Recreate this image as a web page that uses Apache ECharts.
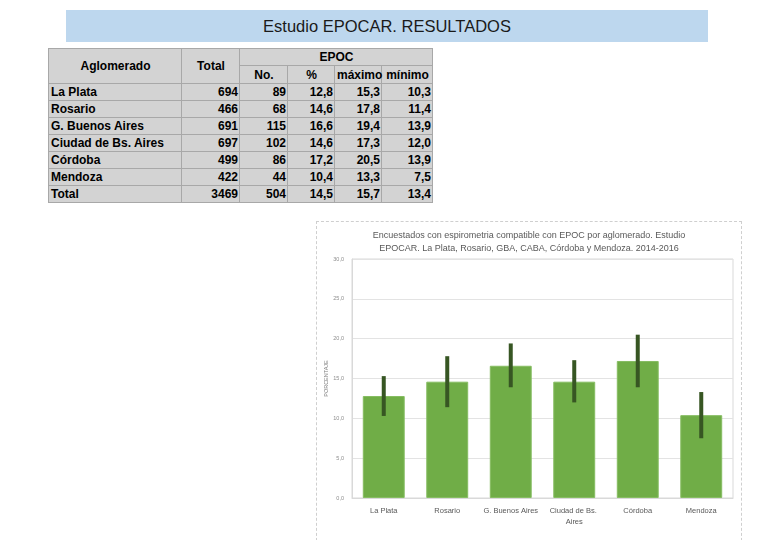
<!DOCTYPE html>
<html>
<head>
<meta charset="utf-8">
<script src="https://cdn.jsdelivr.net/npm/echarts@6/dist/echarts.min.js"></script>
<style>
  html, body { margin: 0; padding: 0; background: #fff; width: 780px; height: 540px; overflow: hidden; }
  #title {
    position: absolute; left: 66px; top: 10px; width: 642px; height: 32px;
    background: #BDD7EE; color: #1a1a1a; font: 16.5px "Liberation Sans", sans-serif;
    text-align: center; line-height: 32px;
  }
  #tabla {
    position: absolute; left: 48px; top: 48px; border-collapse: collapse; table-layout: fixed; width: 384px;
    background: #D3D3D3; font: bold 12px "Liberation Sans", sans-serif; color: #000;
  }
  #tabla td { border: 1px solid #A8A8A8; padding: 0 1px 0 2px; height: 16px; line-height: 14px; white-space: nowrap; overflow: visible; }
  #tabla td.num { text-align: right; }
  #tabla td.hd { text-align: center; }
  #chartBox {
    position: absolute; left: 316px; top: 221px; width: 426px; height: 330px;
    border: 1px dashed #CFCFCF; box-sizing: border-box;
  }
  #chart { width: 100%; height: 100%; }
</style>
</head>
<body>
<div id="title">Estudio EPOCAR. RESULTADOS</div>
<table id="tabla"></table>
<div id="chartBox"><div id="chart"></div></div>
<script>
// datos de la tabla
const aglomerados = ['La Plata', 'Rosario', 'G. Buenos Aires', 'Ciudad de Bs. Aires', 'Córdoba', 'Mendoza'];
const totales = ['694', '466', '691', '697', '499', '422'];
const numEpoc = ['89', '68', '115', '102', '86', '44'];
const pctEpoc = [12.8, 14.6, 16.6, 14.6, 17.2, 10.4];
const maximos = [15.3, 17.8, 19.4, 17.3, 20.5, 13.3];
const minimos = [10.3, 11.4, 13.9, 12.0, 13.9, 7.5];
const filaTotal = ['Total', '3469', '504', '14,5', '15,7', '13,4'];
const yTicks = [0, 5, 10, 15, 20, 25, 30];

const fmt = v => v.toFixed(1).replace('.', ',');

// tabla
const colW = [133, 58, 48, 47, 47, 51];
let html = '<colgroup>' + colW.map(w => '<col style="width:' + w + 'px">').join('') + '</colgroup>' +
  '<tr style="height:16px">' +
  '<td class="hd" rowspan="2">Aglomerado</td>' +
  '<td class="hd" rowspan="2">Total</td>' +
  '<td class="hd" colspan="4">EPOC</td></tr>' +
  '<tr style="height:18px"><td class="hd">No.</td><td class="hd">%</td>' +
  '<td class="hd">máximo</td><td class="hd">mínimo</td></tr>';
aglomerados.forEach((a, i) => {
  html += '<tr><td>' + a + '</td><td class="num">' + totales[i] + '</td><td class="num">' + numEpoc[i] +
    '</td><td class="num">' + fmt(pctEpoc[i]) + '</td><td class="num">' + fmt(maximos[i]) +
    '</td><td class="num">' + fmt(minimos[i]) + '</td></tr>';
});
html += '<tr>' + filaTotal.map((v, j) => '<td' + (j ? ' class="num"' : '') + '>' + v + '</td>').join('') + '</tr>';
document.getElementById('tabla').innerHTML = html;

// grafico
const chart = echarts.init(document.getElementById('chart'));
const errData = aglomerados.map((a, i) => [i, minimos[i], maximos[i]]);

chart.setOption({
  animation: false,
  title: {
    text: 'Encuestados con espirometria compatible con EPOC por aglomerado. Estudio\nEPOCAR. La Plata, Rosario, GBA, CABA, Córdoba y Mendoza. 2014-2016',
    left: 'center', top: 2,
    textStyle: { fontSize: 9, fontWeight: 'normal', color: '#595959', lineHeight: 13, fontFamily: 'Liberation Sans' }
  },
  grid: {
    left: 35, right: 8, top: 37, bottom: 52, show: true, borderColor: '#D9D9D9', borderWidth: 1,
    containLabel: false, outerBoundsMode: 'none'
  },
  xAxis: {
    type: 'category', data: aglomerados,
    axisLine: { lineStyle: { color: '#D9D9D9' } },
    axisTick: { show: false },
    axisLabel: { interval: 0, fontSize: 7.5, color: '#595959', margin: 7, width: 60, overflow: 'break', lineHeight: 11, fontFamily: 'Liberation Sans' }
  },
  yAxis: {
    type: 'value', min: 0, max: 30, interval: 5,
    name: 'PORCENTAJE', nameLocation: 'middle', nameGap: 23, nameRotate: 90, nameMoveOverlap: false,
    nameTextStyle: { fontSize: 5.5, color: '#7f7f7f', fontFamily: 'Liberation Sans' },
    axisLine: { show: true, lineStyle: { color: '#D9D9D9' } },
    axisTick: { show: false },
    splitLine: { lineStyle: { color: '#E3E3E3' } },
    axisLabel: { fontSize: 5.5, color: '#8c8c8c', margin: 8, formatter: v => fmt(v), customValues: yTicks, fontFamily: 'Liberation Sans' }
  },
  series: [
    {
      type: 'bar', data: pctEpoc, barWidth: '66%',
      itemStyle: { color: '#70AD47', borderColor: '#86BD62', borderWidth: 1 }
    },
    {
      type: 'custom', data: errData, z: 10,
      renderItem: (params, api) => {
        const lo = api.coord([api.value(0), api.value(1)]);
        const hi = api.coord([api.value(0), api.value(2)]);
        return {
          type: 'line',
          shape: { x1: lo[0], y1: lo[1], x2: hi[0], y2: hi[1] },
          style: { stroke: '#375623', lineWidth: 4 }
        };
      }
    }
  ]
});
</script>
</body>
</html>
